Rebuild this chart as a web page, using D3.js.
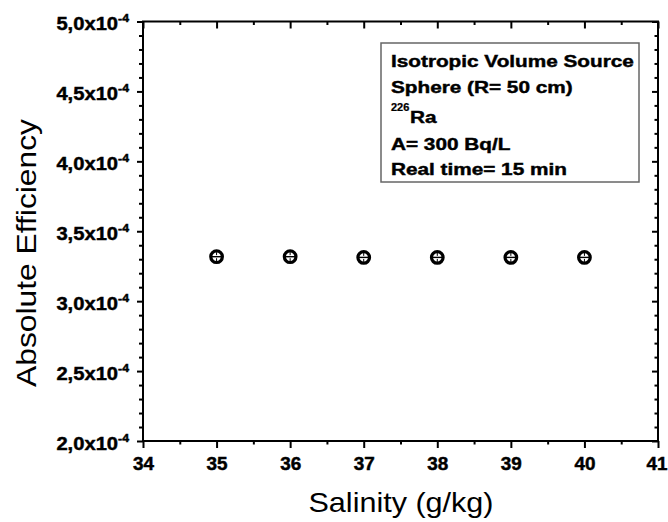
<!DOCTYPE html>
<html>
<head>
<meta charset="utf-8">
<script src="https://cdn.jsdelivr.net/npm/d3@7"></script>
<style>
  body { margin: 0; background: #fff; }
  svg { font-family: "Liberation Sans", Arial, sans-serif; }
  .bold { font-weight: bold; stroke: #000; stroke-width: 0.45px; }
</style>
</head>
<body>
<div id="chart"></div>
<script>
// data
const salinity = [35, 36, 37, 38, 39, 40];
const efficiency = [3.318e-4, 3.318e-4, 3.313e-4, 3.313e-4, 3.313e-4, 3.313e-4];

const xTicks = [34, 35, 36, 37, 38, 39, 40, 41];
const xMinor = [34.5, 35.5, 36.5, 37.5, 38.5, 39.5, 40.5];
const yTicks = [2.0e-4, 2.5e-4, 3.0e-4, 3.5e-4, 4.0e-4, 4.5e-4, 5.0e-4];
const yMinor = d3.range(2.1, 5.0, 0.1).map(d => d * 1e-4).filter(d => Math.round(d * 1e5) % 5 !== 0);

const legendLines = ["Isotropic Volume Source", "Sphere (R= 50 cm)", "Ra", "A= 300 Bq/L", "Real time= 15 min"];

const width = 668, height = 522;
const margin = { left: 143, right: 10, top: 21.5, bottom: 81 };
const w = width - margin.left - margin.right;
const h = height - margin.top - margin.bottom;

const x = d3.scaleLinear().domain([34, 41]).range([0, w]);
const y = d3.scaleLinear().domain([2.0e-4, 5.0e-4]).range([h, 0]);

const svg = d3.select("#chart").append("svg")
  .attr("width", width)
  .attr("height", height);

const g = svg.append("g")
  .attr("transform", "translate(" + [margin.left, margin.top] + ")");

function styleAxis(sel) {
  sel.select(".domain").remove();
  sel.selectAll("line").attr("stroke", "#000").attr("stroke-width", 2);
}

// bottom axis (ticks outside)
g.append("g").attr("transform", "translate(0," + h + ")")
  .call(d3.axisBottom(x).tickValues(xTicks).tickSize(7).tickSizeOuter(0).tickFormat(""))
  .call(styleAxis)
  .selectAll(".tick").append("text")
  .attr("class", "bold")
  .attr("transform", d => "translate(" + (d === 41 ? -1.5 : 0) + ",29) scale(1.05,1)")
  .attr("text-anchor", "middle")
  .attr("fill", "#000")
  .style("font-size", "18px")
  .text(d => d);
g.append("g").attr("transform", "translate(0," + h + ")")
  .call(d3.axisBottom(x).tickValues(xMinor).tickSize(3.5).tickSizeOuter(0).tickFormat(""))
  .call(styleAxis);

// top axis (ticks inside)
g.append("g")
  .call(d3.axisBottom(x).tickValues(xTicks).tickSize(7).tickSizeOuter(0).tickFormat(""))
  .call(styleAxis);
g.append("g")
  .call(d3.axisBottom(x).tickValues(xMinor).tickSize(3.5).tickSizeOuter(0).tickFormat(""))
  .call(styleAxis);

// left axis (ticks outside)
const yl = g.append("g")
  .call(d3.axisLeft(y).tickValues(yTicks).tickSize(6).tickSizeOuter(0).tickFormat(""))
  .call(styleAxis);
const lab = yl.selectAll(".tick").append("text")
  .attr("class", "bold")
  .attr("transform", "translate(-14,8) scale(1.12,1)")
  .attr("text-anchor", "end")
  .attr("fill", "#000")
  .style("font-size", "18px");
lab.append("tspan").text(d => (d * 1e4).toFixed(1).replace(".", ",") + "x10");
lab.append("tspan").attr("dy", -8).style("font-size", "11px").text("-4");
g.append("g")
  .call(d3.axisLeft(y).tickValues(yMinor).tickSize(4).tickSizeOuter(0).tickFormat(""))
  .call(styleAxis);

// right axis (ticks inside)
g.append("g").attr("transform", "translate(" + w + ",0)")
  .call(d3.axisLeft(y).tickValues(yTicks).tickSize(6).tickSizeOuter(0).tickFormat(""))
  .call(styleAxis);
g.append("g").attr("transform", "translate(" + w + ",0)")
  .call(d3.axisLeft(y).tickValues(yMinor).tickSize(3.5).tickSizeOuter(0).tickFormat(""))
  .call(styleAxis);

// frame
g.append("rect")
  .attr("width", w).attr("height", h)
  .attr("fill", "none").attr("stroke", "#000").attr("stroke-width", 2);

// markers
const pts = g.selectAll(".pt")
  .data(salinity.map((s, i) => [s, efficiency[i]]))
  .enter().append("g")
  .attr("class", "pt")
  .attr("transform", d => "translate(" + [x(d[0]), y(d[1])] + ")");
pts.append("circle").attr("r", 5.8).attr("fill", "none").attr("stroke", "#000").attr("stroke-width", 3.2);
pts.append("line").attr("x1", -5).attr("x2", 5).attr("stroke", "#000").attr("stroke-width", 1.4);
pts.append("line").attr("y1", -4.5).attr("y2", -1.5).attr("stroke", "#000").attr("stroke-width", 1);
pts.append("line").attr("y1", 1.5).attr("y2", 4.5).attr("stroke", "#000").attr("stroke-width", 1);

// legend box
svg.append("rect")
  .attr("x", 381).attr("y", 43).attr("width", 258).attr("height", 139)
  .attr("fill", "#fff").attr("stroke", "#666").attr("stroke-width", 1.5);
const baselines = [67, 93, 123, 150, 175];
legendLines.forEach((t, i) => {
  svg.append("text")
    .attr("class", "bold")
    .attr("transform", "translate(" + [i === 2 ? 410 : 391, baselines[i]] + ") scale(1.2,1)")
    .style("font-size", "17.3px")
    .text(t);
});
svg.append("text")
  .attr("class", "bold")
  .style("stroke-width", "0.25px")
  .attr("transform", "translate(391,111) scale(1.1,1)")
  .style("font-size", "10px")
  .text("226");

// axis titles
svg.append("text")
  .attr("x", 401).attr("y", 512)
  .attr("text-anchor", "middle")
  .attr("textLength", 185).attr("lengthAdjust", "spacingAndGlyphs")
  .style("font-size", "28px")
  .text("Salinity (g/kg)");
svg.append("text")
  .attr("transform", "translate(36,253) rotate(-90)")
  .attr("text-anchor", "middle")
  .attr("textLength", 268).attr("lengthAdjust", "spacingAndGlyphs")
  .style("font-size", "28px")
  .text("Absolute Efficiency");
</script>
</body>
</html>
